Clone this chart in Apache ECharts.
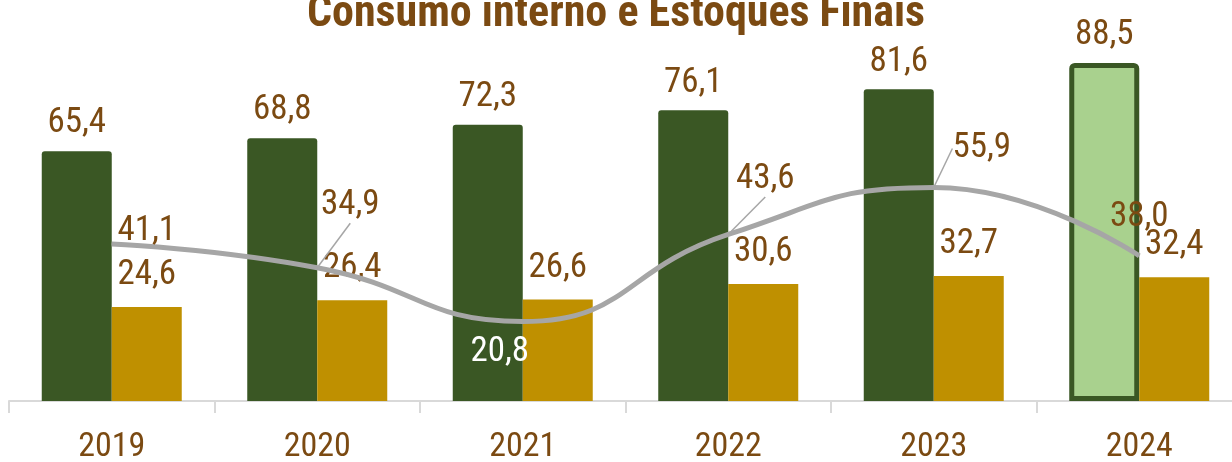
<!DOCTYPE html>
<html>
<head>
<meta charset="utf-8">
<script src="https://cdn.jsdelivr.net/npm/echarts@6/dist/echarts.min.js"></script>
<style>
html, body { margin: 0; padding: 0; background: #fff; }
#chart { width: 1232px; height: 462px; }
</style>
</head>
<body>
<div id="chart"></div>
<script>
// dados
var anos = ['2019', '2020', '2021', '2022', '2023', '2024'];
var consumo = [65.4, 68.8, 72.3, 76.1, 81.6, 88.5];
var estoques = [24.6, 26.4, 26.6, 30.6, 32.7, 32.4];
var relacao = [41.1, 34.9, 20.8, 43.6, 55.9, 38.0];

// deslocamento dos rotulos da linha (px)
var shiftX = [35, 33, -23, 37, 48, 0];
var shiftY = [-13, -62, 31, -55, -39, -39];
var comGuia = [false, true, false, true, true, false];

var marrom = '#7B4A12';
var fonte = "'Liberation Sans Narrow', 'Arial Narrow', 'Roboto Condensed', sans-serif";

function virgula(p) {
  return p.value.toFixed(1).replace('.', ',');
}

var consumoData = consumo.map(function (v, i) {
  if (i == consumo.length - 1) {
    return { value: v, itemStyle: { color: '#A9D18E', borderColor: '#3A5724', borderWidth: 5 } };
  }
  return v;
});

var relacaoData = relacao.map(function (v, i) {
  var d = { value: v, labelLine: { show: comGuia[i] } };
  if (i == 2) d.label = { color: '#fff' };
  return d;
});

var option = {
  animation: false,
  title: {
    text: 'Consumo interno e Estoques Finais',
    left: 'center',
    top: -12,
    textStyle: { color: marrom, fontSize: 44, fontWeight: 'bold', fontFamily: fonte }
  },
  grid: { left: 9, width: 1233, top: 19, height: 382, outerBoundsMode: 'none', containLabel: false },
  xAxis: {
    type: 'category',
    data: anos,
    axisLine: { lineStyle: { color: '#D9D9D9', width: 2 } },
    axisTick: { show: true, length: 12, lineStyle: { color: '#D9D9D9', width: 2 } },
    axisLabel: { color: marrom, fontSize: 34, fontFamily: fonte, margin: 29 }
  },
  yAxis: {
    type: 'value',
    min: 0,
    max: 100,
    show: false,
    splitLine: { show: false }
  },
  series: [
    {
      name: 'Consumo interno',
      type: 'bar',
      data: consumoData,
      barWidth: 70,
      barGap: '0%',
      itemStyle: { color: '#3A5724', borderRadius: [3, 3, 0, 0] },
      label: { show: true, position: 'top', distance: 10, color: marrom, fontSize: 35, fontFamily: fonte, formatter: virgula }
    },
    {
      name: 'Estoques finais',
      type: 'bar',
      data: estoques,
      barWidth: 70,
      barGap: '0%',
      itemStyle: { color: '#BF9000' },
      label: { show: true, position: 'top', distance: 14, color: marrom, fontSize: 35, fontFamily: fonte, formatter: virgula }
    },
    {
      name: 'Relacao',
      type: 'line',
      data: relacaoData,
      smooth: 0.5,
      symbol: 'circle',
      symbolSize: 1,
      itemStyle: { color: '#A6A6A6' },
      lineStyle: { color: '#A6A6A6', width: 5 },
      z: 5,
      label: { show: true, position: 'inside', color: marrom, fontSize: 35, fontFamily: fonte, formatter: virgula },
      labelLine: { show: true, lineStyle: { color: '#A6A6A6', width: 1.5 } },
      labelLayout: function (p) {
        return { dx: shiftX[p.dataIndex], dy: shiftY[p.dataIndex] };
      }
    }
  ]
};

echarts.init(document.getElementById('chart')).setOption(option);
</script>
</body>
</html>
